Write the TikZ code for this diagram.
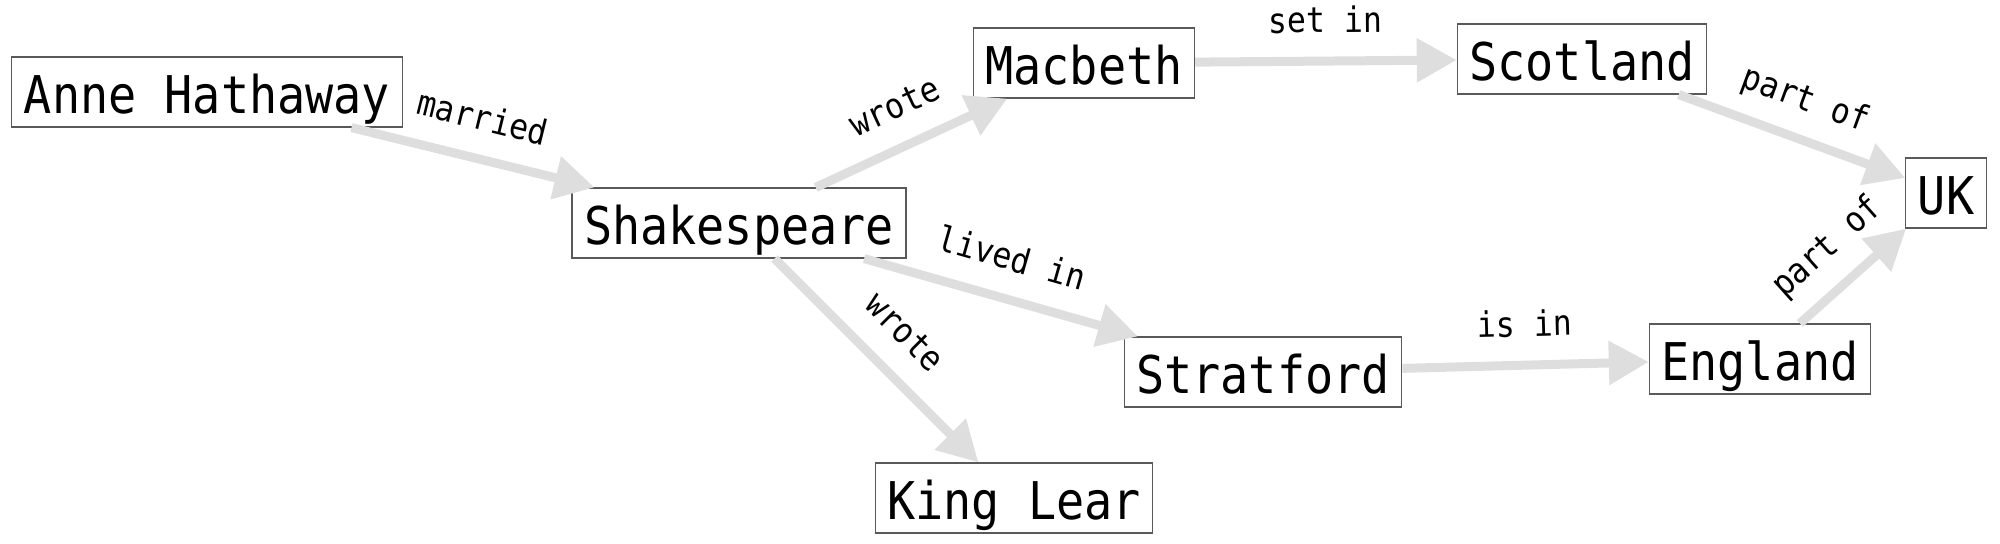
\documentclass[tikz,border=0pt]{standalone}
\usepackage{fontspec}
\newfontfamily\monofont[FakeStretch=0.9]{DejaVu Sans Mono}
\usetikzlibrary{arrows.meta}
\begin{document}
\begin{tikzpicture}[x=0.5pt,y=-0.5pt,
  ent/.style={draw=black!65, line width=0.6pt, fill=white, font=\monofont\fontsize{26}{30}\selectfont, inner xsep=6pt, inner ysep=0pt, minimum height=35pt, text height=28pt, text depth=7pt},
  rel/.style={draw=black!13, line width=4.5pt, -{Triangle[length=20pt,width=21pt]}},
  lbl/.style={sloped, above, midway, text=black, font=\monofont\fontsize{17.5}{20}\selectfont, text height=13pt, text depth=4pt, inner ysep=8pt, inner xsep=0pt}]
\useasboundingbox (0,0) rectangle (2000,543);
\node[ent] (anne) at (207,92) {Anne Hathaway};
\node[ent] (shak) at (739,223) {Shakespeare};
\node[ent] (macb) at (1084,63) {Macbeth};
\node[ent] (scot) at (1582,59) {Scotland};
\node[ent] (uk) at (1946,193) {UK};
\node[ent] (strat) at (1263,372) {Stratford};
\node[ent] (eng) at (1760,359) {England};
\node[ent] (lear) at (1014,498) {King Lear};
\draw[rel] (anne) -- node[lbl] {married} (shak);
\draw[rel] (shak) -- node[lbl] {wrote} (macb);
\draw[rel] (shak) -- node[lbl] {lived in} (strat);
\draw[rel] (shak) -- node[lbl] {wrote} (lear);
\draw[rel] (macb) -- node[lbl] {set in} (scot);
\draw[rel] (strat) -- node[lbl] {is in} (eng);
\draw[rel] (scot) -- node[lbl] {part of} (uk);
\draw[rel] (eng) -- node[lbl] {part of} (uk);
\end{tikzpicture}
\end{document}
